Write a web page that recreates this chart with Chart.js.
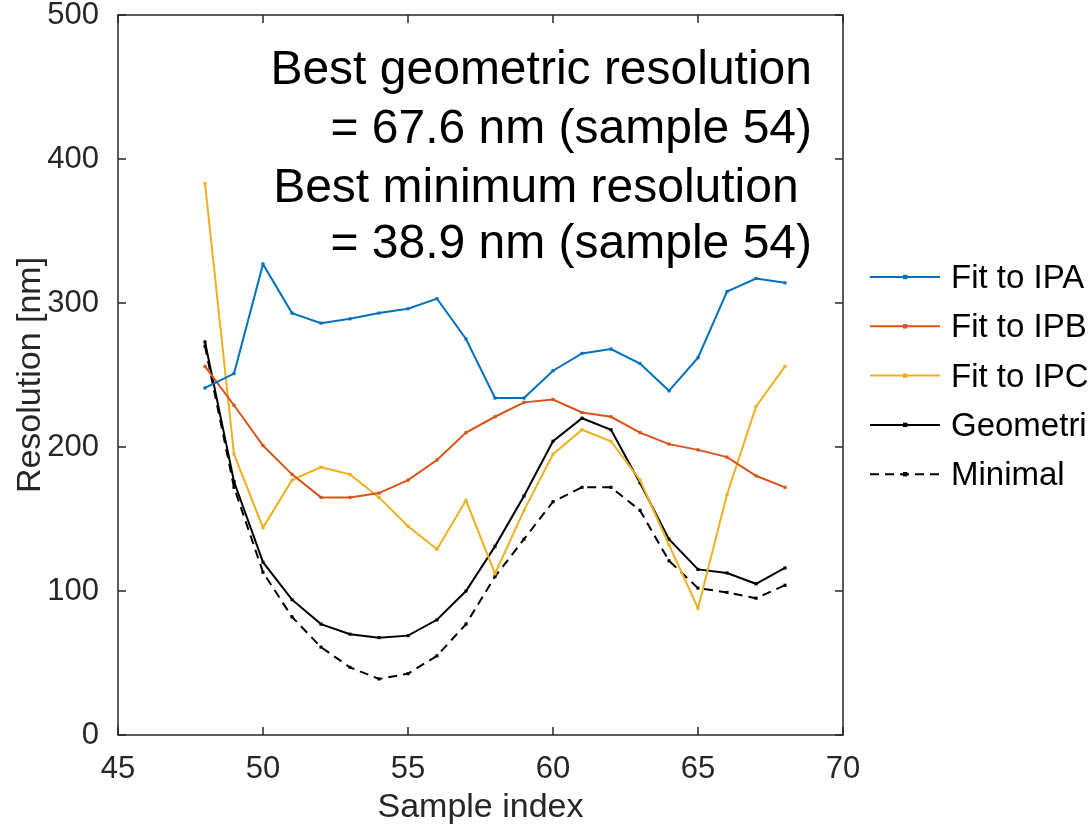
<!DOCTYPE html>
<html>
<head>
<meta charset="utf-8">
<script src="https://cdn.jsdelivr.net/npm/chart.js@4"></script>
<style>
  html, body { margin: 0; padding: 0; background: #fff; overflow: hidden; }
  #wrap { width: 1088px; height: 829px; position: relative; }
</style>
</head>
<body>
<div id="wrap"><canvas id="res-chart"></canvas></div>
<script>
// Muestras (eje x)
const samples = [48, 49, 50, 51, 52, 53, 54, 55, 56, 57, 58, 59, 60, 61, 62, 63, 64, 65, 66, 67, 68];

// Resolución [nm] por serie
const fitIPA = [241, 251, 327, 293, 286, 289, 293, 296, 303, 275, 234, 234, 253, 265, 268, 258, 239, 262, 308, 317, 314];
const fitIPB = [256, 229, 201, 181, 165, 165, 168, 177, 191, 210, 221, 231, 233, 224, 221, 210, 202, 198, 193, 180, 172];
const fitIPC = [383, 195, 144, 177, 186, 181, 165, 145, 129, 163, 112, 156, 195, 212, 204, 177, 132, 88, 167, 228, 256];
const geometric = [273, 176, 120, 94, 77, 70, 67.6, 69, 80, 100, 131, 166, 204, 220, 212, 175, 136, 115, 112.5, 105, 116];
const minimal = [270, 172, 113, 82, 61, 47, 38.9, 42.6, 55, 77, 110, 136, 162, 172, 172, 156, 121, 102, 99, 95, 104];

const seriesLabels = ['Fit to IPA', 'Fit to IPB', 'Fit to IPC', 'Geometric', 'Minimal'];
const xTicks = [45, 50, 55, 60, 65, 70];
const yTicks = [0, 100, 200, 300, 400, 500];
const noteLines = ['Best geometric resolution', '= 67.6 nm (sample 54)', 'Best minimum resolution ', '= 38.9 nm (sample 54)'];

const colors = ['#0072BD', '#D95319', '#EDB120', '#000000', '#000000'];
const dashes = [[], [], [], [], [9, 6]];
const allSeries = [fitIPA, fitIPB, fitIPC, geometric, minimal];

const FONT = '"Liberation Sans", Arial, Helvetica, sans-serif';
const AXIS_COLOR = '#262626';

function toPoints(values) {
  return samples.map((s, i) => ({ x: s, y: values[i] }));
}

const datasets = allSeries.map((vals, i) => ({
  label: seriesLabels[i],
  data: toPoints(vals),
  borderColor: colors[i],
  backgroundColor: colors[i],
  borderWidth: 2,
  borderDash: dashes[i],
  pointRadius: 2.2,
  pointStyle: 'rect',
  pointBorderWidth: 0,
  tension: 0,
  fill: false
}));

// Caja, marcas interiores, leyenda y texto
const decorPlugin = {
  id: 'decor',
  afterDraw(chart) {
    const ctx = chart.ctx;
    const a = chart.chartArea;
    const xs = chart.scales.x;
    const ys = chart.scales.y;
    ctx.save();
    ctx.strokeStyle = AXIS_COLOR;
    ctx.lineWidth = 1.5;
    ctx.strokeRect(a.left, a.top, a.right - a.left, a.bottom - a.top);
    const tl = 8;
    ctx.beginPath();
    xTicks.forEach(v => {
      const px = xs.getPixelForValue(v);
      ctx.moveTo(px, a.bottom); ctx.lineTo(px, a.bottom - tl);
      ctx.moveTo(px, a.top); ctx.lineTo(px, a.top + tl);
    });
    yTicks.forEach(v => {
      const py = ys.getPixelForValue(v);
      ctx.moveTo(a.left, py); ctx.lineTo(a.left + tl, py);
      ctx.moveTo(a.right, py); ctx.lineTo(a.right - tl, py);
    });
    ctx.stroke();

    // texto de anotación
    ctx.fillStyle = '#000';
    ctx.font = '48px ' + FONT;
    ctx.textAlign = 'right';
    ctx.textBaseline = 'alphabetic';
    const noteY = [84, 143, 202, 258];
    noteLines.forEach((t, i) => ctx.fillText(t, 812, noteY[i]));

    // leyenda
    ctx.font = '33px ' + FONT;
    ctx.textAlign = 'left';
    ctx.textBaseline = 'middle';
    const legY0 = 277, legStep = 49.3;
    datasets.forEach((ds, i) => {
      const y = legY0 + i * legStep;
      ctx.strokeStyle = ds.borderColor;
      ctx.lineWidth = 2;
      ctx.setLineDash(ds.borderDash);
      ctx.beginPath();
      ctx.moveTo(870, y); ctx.lineTo(940, y);
      ctx.stroke();
      ctx.setLineDash([]);
      ctx.fillStyle = ds.borderColor;
      ctx.fillRect(903, y - 2.2, 4.4, 4.4);
      ctx.fillStyle = '#000';
      ctx.fillText(ds.label, 951, y + 2);
    });
    ctx.restore();
  }
};

new Chart(document.getElementById('res-chart'), {
  type: 'line',
  data: { datasets: datasets },
  options: {
    responsive: true,
    maintainAspectRatio: false,
    animation: false,
    layout: { padding: { left: 0, top: 15, right: 245, bottom: 0 } },
    plugins: {
      legend: { display: false },
      tooltip: { enabled: false }
    },
    scales: {
      x: {
        type: 'linear',
        min: 45,
        max: 70,
        afterFit: s => { s.height = 94; s.paddingLeft = 0; s.paddingRight = 0; },
        afterBuildTicks: s => { s.ticks = xTicks.map(v => ({ value: v })); },
        grid: { display: false },
        border: { display: false },
        ticks: { color: AXIS_COLOR, font: { family: FONT, size: 31 }, padding: 8, maxRotation: 0 },
        title: { display: true, text: 'Sample index', color: AXIS_COLOR, font: { family: FONT, size: 34 }, padding: { top: 0, bottom: 1 } }
      },
      y: {
        min: 0,
        max: 500,
        afterFit: s => { s.width = 118; s.paddingTop = 0; s.paddingBottom = 0; },
        afterBuildTicks: s => { s.ticks = yTicks.map(v => ({ value: v })); },
        grid: { display: false },
        border: { display: false },
        ticks: { color: AXIS_COLOR, font: { family: FONT, size: 31 }, padding: 11 },
        title: { display: true, text: 'Resolution [nm]', color: AXIS_COLOR, font: { family: FONT, size: 34 }, padding: { top: 10, bottom: 0 } }
      }
    }
  },
  plugins: [decorPlugin]
});
</script>
</body>
</html>
